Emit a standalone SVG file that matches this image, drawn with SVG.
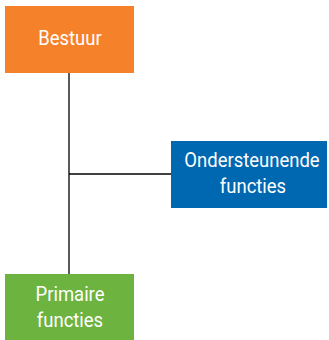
<svg xmlns="http://www.w3.org/2000/svg" width="329" height="340" viewBox="0 0 329 340">
<style>
text{font-family:Roboto,"Liberation Sans",sans-serif;font-size:21px;fill:#fff;text-anchor:middle}
.c{stroke:#000;stroke-width:1.3;fill:none}
</style>
<rect width="329" height="340" fill="#fff"/>
<g id="connectors">
<line class="c" x1="69" y1="73" x2="69" y2="274"/>
<line class="c" x1="69" y1="174" x2="171" y2="174"/>
</g>
<g id="bestuur">
<rect x="5" y="6" width="129" height="67" fill="#F5822A"/>
<text transform="translate(70,45) scale(0.88,1)">Bestuur</text>
</g>
<g id="ondersteunende">
<rect x="171" y="141" width="156" height="67" fill="#0067B1"/>
<text transform="translate(252,167) scale(0.88,1)">Ondersteunende</text>
<text transform="translate(253,193) scale(0.88,1)">functies</text>
</g>
<g id="primaire">
<rect x="5" y="274" width="129" height="66" fill="#6DB33F"/>
<text transform="translate(70,301) scale(0.88,1)">Primaire</text>
<text transform="translate(70,327) scale(0.88,1)">functies</text>
</g>
</svg>
